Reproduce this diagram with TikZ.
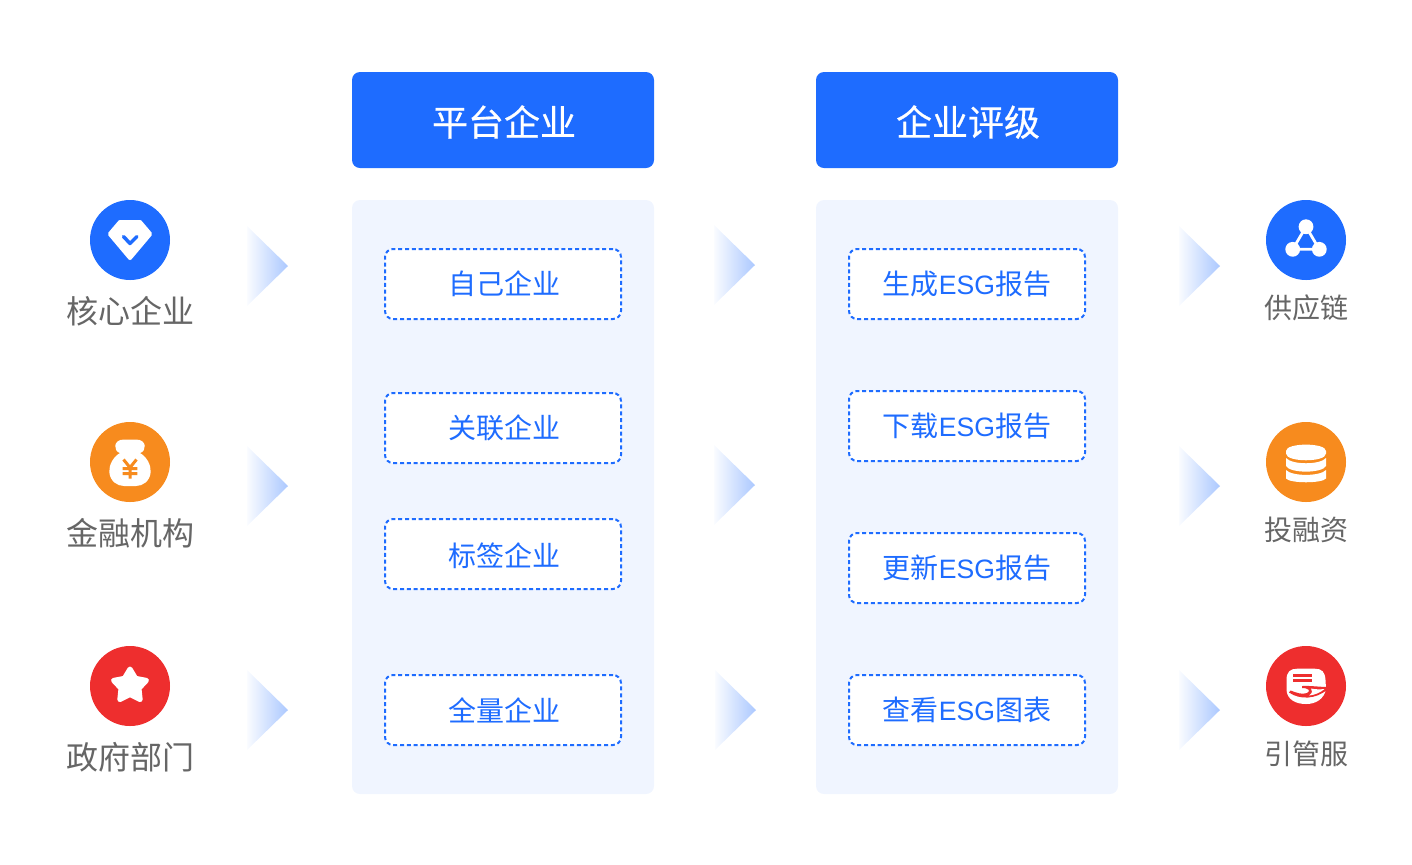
\documentclass[tikz,border=0pt]{standalone}
\usepackage{fontspec}
\setmainfont{Noto Sans CJK SC}
\newfontfamily\headfont[FakeBold=0.5]{Noto Sans CJK SC}
\newfontfamily\esgfont[Scale=0.95]{Liberation Sans}
\usetikzlibrary{calc}
\definecolor{mainblue}{HTML}{1E6CFF}
\definecolor{mainorange}{HTML}{F78B1E}
\definecolor{mainred}{HTML}{EE2E2E}
\definecolor{panelblue}{HTML}{F0F5FF}
\definecolor{labelgray}{HTML}{666666}
\definecolor{arrowblue}{HTML}{ABC8FF}
\tikzset{
	headbox/.style={fill=mainblue, text=white, rounded corners=4pt, minimum width=151pt, minimum height=48pt, inner sep=0pt, outer sep=0pt, font=\headfont\fontsize{18pt}{18pt}\selectfont},
	panelbox/.style={fill=panelblue, rounded corners=4pt, minimum width=151pt, minimum height=297pt, inner sep=0pt, outer sep=0pt},
	itembox/.style={draw=mainblue, fill=white, line width=1pt, dash pattern=on 2pt off 1.4pt, rounded corners=4pt, text=mainblue, minimum width=118pt, minimum height=35pt, inner sep=0pt, outer sep=0pt, font=\fontsize{14pt}{14pt}\selectfont},
	iconcircle/.style={circle, minimum size=40pt, inner sep=0pt, outer sep=0pt},
	sidelabel/.style={text=labelgray, inner sep=0pt, font=\fontsize{16pt}{16pt}\selectfont},
	sidelabelsmall/.style={text=labelgray, inner sep=0pt, font=\fontsize{14pt}{14pt}\selectfont},
	chaindot/.style={circle, fill=white, minimum size=7.4pt, inner sep=0pt}
}
\def\gradarrow(#1,#2){\shade[left color=arrowblue!6, right color=arrowblue] (#1, #2-40) -- (#1+41, #2) -- (#1, #2+40) -- cycle;}
\def\lowertext#1{\raisebox{-1pt}[\height][\depth]{#1}}
\begin{document}
\begin{tikzpicture}[x=0.5pt, y=-0.5pt]
	%%%%% START %%%%%
	\useasboundingbox (0, 0) rectangle (1412, 864);
	
	\node[headbox] (headleft) at (503, 120) {\hspace*{1pt}\lowertext{平台企业}};
	\node[headbox] (headright) at (967, 120) {\hspace*{1pt}\lowertext{企业评级}};
	\node[panelbox] (panelleft) at (503, 497) {};
	\node[panelbox] (panelright) at (967, 497) {};
	
	\node[itembox] (own) at (503, 284) {\hspace*{1pt}自己企业};
	\node[itembox] (linked) at (503, 428) {\hspace*{1pt}关联企业};
	\node[itembox] (tagged) at (503, 554) {\hspace*{1pt}\lowertext{标签企业}};
	\node[itembox] (whole) at (503, 710) {\hspace*{1pt}全量企业};
	
	\node[itembox] (create) at (967, 284) {生成{\esgfont ESG}报告};
	\node[itembox] (download) at (967, 426) {下载{\esgfont ESG}报告};
	\node[itembox] (update) at (967, 568) {更新{\esgfont ESG}报告};
	\node[itembox] (view) at (967, 710) {查看{\esgfont ESG}图表};
	
	\gradarrow(247, 266)
	\gradarrow(247, 486)
	\gradarrow(247, 710)
	\gradarrow(714, 265)
	\gradarrow(714, 485)
	\gradarrow(715, 710)
	\gradarrow(1179, 266)
	\gradarrow(1179, 486)
	\gradarrow(1179, 710)
	
	% left column
	\node[iconcircle, fill=mainblue] (coreicon) at (130, 240) {};
	\draw[white, fill=white, line width=2pt, line join=round] (120, 222) -- (140, 222) -- (150.2, 234) -- (130, 258) -- (109.8, 234) -- cycle;
	\draw[mainblue, line width=1.75pt, line cap=round, line join=round] (123.5, 236.5) -- (130, 243.5) -- (137, 236.5);
	\node[sidelabel] (corelabel) at (130, 311) {核心企业};
	
	\node[iconcircle, fill=mainorange] (bankicon) at (130, 462) {};
	\fill[white] (124, 439.5) -- (136, 439.5) .. controls (147, 439.5) and (147, 451) .. (140, 453) .. controls (147, 457) and (151, 465) .. (150.7, 472) .. controls (150, 481) and (143, 486) .. (136, 486) -- (124, 486) .. controls (117, 486) and (110, 481) .. (109.3, 472) .. controls (109, 465) and (113, 457) .. (120, 453) .. controls (113, 451) and (113, 439.5) .. (124, 439.5) -- cycle;
	\draw[mainorange, line width=1.5pt] (123.5, 459.5) -- (130, 467.5) -- (136.5, 459.5) (130, 467.5) -- (130, 478.5) (122.7, 468.5) -- (137.3, 468.5) (122.7, 473.5) -- (137.3, 473.5);
	\node[sidelabel] (banklabel) at (130, 533) {金融机构};
	
	\node[iconcircle, fill=mainred] (govicon) at (130, 686) {};
	\draw[white, fill=white, line width=2.5pt, line join=round] (130, 669) -- (135.6, 678.3) -- (146.5, 680.4) -- (139, 688.4) -- (140.2, 699.6) -- (130, 694.5) -- (119.8, 699.6) -- (121, 688.4) -- (113.5, 680.4) -- (124.4, 678.3) -- cycle;
	\node[sidelabel] (govlabel) at (130, 757) {政府部门};
	
	% right column
	\node[iconcircle, fill=mainblue] (chainicon) at (1306, 240) {};
	\node[chaindot] (chaintop) at (1306, 226.7) {};
	\node[chaindot] (chainleft) at (1292.7, 249.3) {};
	\node[chaindot] (chainright) at (1319.3, 249.3) {};
	\draw[white, line width=1.4pt] (chaintop.center) -- (chainleft.center) -- (chainright.center) -- cycle;
	\node[sidelabelsmall] (chainlabel) at (1306, 308) {供应链};
	
	\node[iconcircle, fill=mainorange] (fundicon) at (1306, 462) {};
	\fill[white] (1286, 453.5) -- (1286, 451) .. controls (1286, 442.5) and (1326, 442.5) .. (1326, 451) -- (1326, 453.5) .. controls (1326, 462.5) and (1286, 462.5) .. (1286, 453.5) -- cycle;
	\fill[white] (1286, 458) .. controls (1292, 465) and (1320, 465) .. (1326, 458) -- (1326, 466) .. controls (1322, 473.5) and (1290, 473.5) .. (1286, 466) -- cycle;
	\fill[white] (1286, 470) .. controls (1292, 476.5) and (1320, 476.5) .. (1326, 470) -- (1326, 478.5) .. controls (1322, 483.5) and (1290, 483.5) .. (1286, 478.5) -- cycle;
	\node[sidelabelsmall] (fundlabel) at (1306, 530) {投融资};
	
	\node[iconcircle, fill=mainred] (serviceicon) at (1306, 686) {};
	\fill[white] (1297, 668.7) -- (1315, 668.7) .. controls (1322, 668.7) and (1325, 672) .. (1325.5, 680) -- (1326, 689) .. controls (1324, 699) and (1316, 704) .. (1306, 704) .. controls (1295, 704) and (1287, 699) .. (1286.5, 690) -- (1286.5, 680) .. controls (1286.5, 672) and (1290, 668.7) .. (1297, 668.7) -- cycle;
	\draw[mainred, line width=1.1pt] (1293.3, 675.5) -- (1311.7, 675.5) (1293.3, 680.5) -- (1311.7, 680.5);
	\fill[mainred] (1302, 686) .. controls (1310, 685.5) and (1320, 687) .. (1328, 687) -- (1328, 689) .. controls (1316, 699.5) and (1300, 700) .. (1289, 692.5) -- (1290.5, 690.5) .. controls (1296, 692.5) and (1302, 695) .. (1307, 693) .. controls (1311, 691) and (1309, 688) .. (1302, 688) -- cycle;
	\fill[white] (1311, 688.5) .. controls (1316, 689.5) and (1320, 689.5) .. (1324.5, 689) .. controls (1320, 693) and (1314, 695) .. (1309, 695.5) .. controls (1312.5, 693) and (1313, 690.5) .. (1311, 688.5) -- cycle;
	\node[sidelabelsmall] (servicelabel) at (1306, 754) {引管服};
	
	%%%%% END %%%%%
\end{tikzpicture}
\end{document}
